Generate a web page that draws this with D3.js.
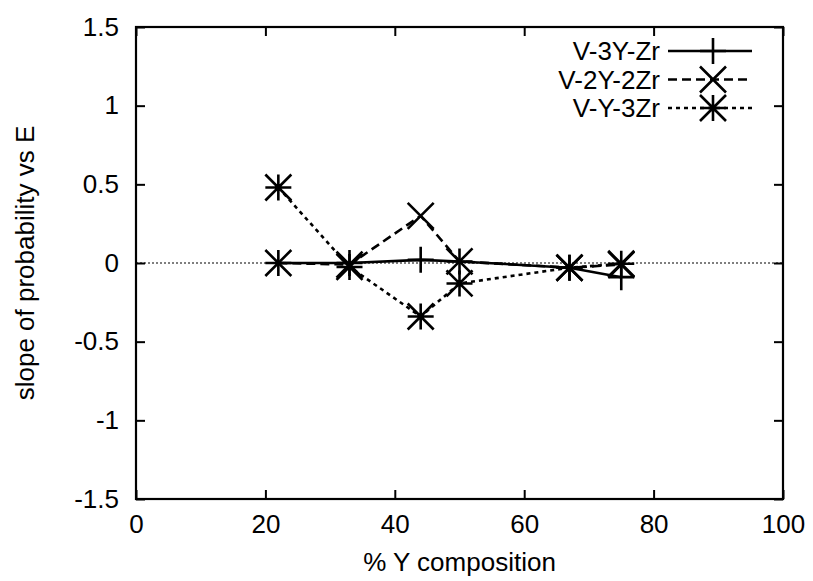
<!DOCTYPE html>
<html>
<head>
<meta charset="utf-8">
<script src="https://cdn.jsdelivr.net/npm/d3@7"></script>
<style>
  body { margin: 0; background: #fff; }
  svg text { font-family: "Liberation Sans", Arial, sans-serif; fill: #000; }
</style>
</head>
<body>
<script>
// Data
var composition = [22, 33, 44, 50, 67, 75];
var v3yZr  = [0.0, 0.0, 0.02, 0.01, -0.03, -0.09];
var v2y2Zr = [0.0, -0.01, 0.3, 0.01, -0.03, -0.01];
var vy3Zr  = [0.48, -0.025, -0.34, -0.13, -0.03, -0.005];
var seriesNames = ['V-3Y-Zr', 'V-2Y-2Zr', 'V-Y-3Zr'];
var xTicks = [0, 20, 40, 60, 80, 100];
var yTicks = [-1.5, -1, -0.5, 0, 0.5, 1, 1.5];

var W = 813, H = 581;
var margin = {top: 27, right: 30, bottom: 82, left: 136};
var width = W - margin.left - margin.right,
    height = H - margin.top - margin.bottom;

var svg = d3.select('body').append('svg').attr('width', W).attr('height', H);
var wrap = svg.append('g').attr('transform', 'translate(' + margin.left + ',' + margin.top + ')');

var x = d3.scaleLinear().domain([0, 100]).range([0, width]);
var y = d3.scaleLinear().domain([-1.5, 1.5]).range([height, 0]);

// zero axis (dotted)
wrap.append('line')
  .attr('x1', 0).attr('x2', width).attr('y1', y(0)).attr('y2', y(0))
  .attr('stroke', '#000').attr('stroke-width', 1.2).attr('stroke-dasharray', '2,2');

// axes with inward ticks, mirrored
var tl = 9;
var fmt = function(d) { return String(d); }; // plain hyphen minus like gnuplot
wrap.append('g').attr('class', 'x axis').attr('transform', 'translate(0,' + height + ')')
  .call(d3.axisBottom(x).tickValues(xTicks).tickSize(-tl).tickFormat(fmt));
wrap.append('g').call(d3.axisTop(x).tickValues(xTicks).tickSize(-tl).tickFormat(''));
wrap.append('g').attr('class', 'y axis')
  .call(d3.axisLeft(y).tickValues(yTicks).tickSize(-tl).tickPadding(17).tickFormat(fmt));
wrap.append('g').attr('transform', 'translate(' + width + ',0)')
  .call(d3.axisRight(y).tickValues(yTicks).tickSize(-tl).tickFormat(''));

wrap.selectAll('.domain').remove();
wrap.selectAll('.tick line').attr('stroke', '#000').attr('stroke-width', 2);
wrap.selectAll('.axis').attr('font-size', null).attr('font-family', null);
wrap.selectAll('.tick text').style('font-size', '26px').attr('fill', '#000');
wrap.select('.x.axis').selectAll('.tick text').attr('y', 16).attr('dy', '0.71em');

// frame
wrap.append('rect').attr('width', width).attr('height', height)
  .attr('fill', 'none').attr('stroke', '#000').attr('stroke-width', 2.2);

// marker paths
var s = 13;
function plusPath(px, py) {
  return 'M' + (px - s) + ',' + py + 'H' + (px + s) + 'M' + px + ',' + (py - s) + 'V' + (py + s);
}
function crossPath(px, py) {
  return 'M' + (px - s) + ',' + (py - s) + 'L' + (px + s) + ',' + (py + s) +
         'M' + (px - s) + ',' + (py + s) + 'L' + (px + s) + ',' + (py - s);
}
function starPath(px, py) { return plusPath(px, py) + crossPath(px, py); }

var series = [
  {name: seriesNames[0], values: v3yZr,  dash: null,  marker: plusPath},
  {name: seriesNames[1], values: v2y2Zr, dash: '9,5', marker: crossPath},
  {name: seriesNames[2], values: vy3Zr,  dash: '4,4', marker: starPath}
];

var line = d3.line().x(function(d) { return x(d[0]); }).y(function(d) { return y(d[1]); });

series.forEach(function(sr) {
  var pts = composition.map(function(c, i) { return [c, sr.values[i]]; });
  wrap.append('path').datum(pts).attr('d', line)
    .attr('fill', 'none').attr('stroke', '#000').attr('stroke-width', 2.6)
    .attr('stroke-dasharray', sr.dash);
  wrap.append('path')
    .attr('d', pts.map(function(p) { return sr.marker(x(p[0]), y(p[1])); }).join(''))
    .attr('fill', 'none').attr('stroke', '#000').attr('stroke-width', 2.6);
});

// legend (no box)
var legend = svg.append('g').attr('transform', 'translate(0,51)');
series.forEach(function(sr, i) {
  var g = legend.append('g').attr('transform', 'translate(0,' + (i * 28.5) + ')');
  g.append('text').attr('x', 660).attr('y', 0).attr('dy', '0.36em')
    .attr('text-anchor', 'end').style('font-size', '26px').text(sr.name);
  g.append('line').attr('x1', 668).attr('x2', 752).attr('y1', 0).attr('y2', 0)
    .attr('stroke', '#000').attr('stroke-width', 2.6).attr('stroke-dasharray', sr.dash);
  g.append('path').attr('d', sr.marker(713, 0))
    .attr('fill', 'none').attr('stroke', '#000').attr('stroke-width', 2.6);
});

// axis titles
svg.append('text').attr('x', margin.left + width / 2).attr('y', 571)
  .attr('text-anchor', 'middle').style('font-size', '26px').text('% Y composition');
svg.append('text')
  .attr('transform', 'translate(34,' + (margin.top + height / 2) + ') rotate(-90)')
  .attr('text-anchor', 'middle').style('font-size', '26px').text('slope of probability vs E');
</script>
</body>
</html>
